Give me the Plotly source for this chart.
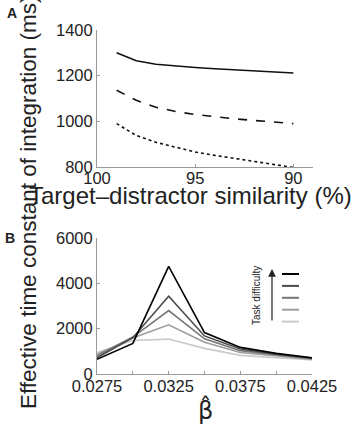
import plotly.graph_objects as go

# Panel A data
similarity = [99, 98, 97, 96, 95, 94, 93, 92, 91, 90]
tc_solid = [1300, 1265, 1250, 1242, 1236, 1230, 1226, 1221, 1216, 1212]
tc_dashed = [1136, 1092, 1062, 1043, 1030, 1019, 1011, 1004, 997, 990]
tc_dotted = [990, 938, 908, 886, 866, 851, 838, 825, 811, 798]

# Panel B data
beta_hat = [0.0275, 0.03, 0.0325, 0.035, 0.0375, 0.04, 0.0425]
tc_b1 = [650, 1350, 4750, 1830, 1175, 910, 715]
tc_b2 = [720, 1600, 3430, 1680, 1100, 870, 700]
tc_b3 = [800, 1630, 2800, 1550, 1030, 840, 680]
tc_b4 = [870, 1590, 2170, 1400, 950, 800, 655]
tc_b5 = [950, 1480, 1540, 1130, 820, 730, 620]
b_series = [tc_b1, tc_b2, tc_b3, tc_b4, tc_b5]
b_colors = ["#000000", "#4a4a4a", "#767676", "#9c9c9c", "#cacaca"]

a_xticks = [100, 95, 90]
a_yticks = [800, 1000, 1200, 1400]
b_xticks = [0.0275, 0.03, 0.0325, 0.035, 0.0375, 0.04, 0.0425]
b_xticktext = ["0.0275", "", "0.0325", "", "0.0375", "", "0.0425"]
b_yticks = [0, 2000, 4000, 6000]

W, H = 355, 428
def px(x):
    return x / W
def py(y):
    return 1 - y / H

fig = go.Figure()
for ys, dash in [(tc_solid, "solid"), (tc_dashed, "dash"), (tc_dotted, "dot")]:
    fig.add_trace(go.Scatter(x=similarity, y=ys, mode="lines", xaxis="x", yaxis="y",
                             line=dict(color="#111111", width=1.6, dash=dash), showlegend=False))
for ys, c in zip(b_series[::-1], b_colors[::-1]):
    fig.add_trace(go.Scatter(x=beta_hat, y=ys, mode="lines", xaxis="x2", yaxis="y2",
                             line=dict(color=c, width=1.6), showlegend=False))

font = dict(family="Liberation Sans, Arial, sans-serif", color="#222222")
axcommon = dict(showline=True, linecolor="#9a9a9a", linewidth=1, ticks="inside", ticklen=3,
                tickcolor="#9a9a9a", showgrid=False, zeroline=False, automargin=False,
                tickfont=dict(size=16.5, **font))

fig.update_layout(
    width=W, height=H, margin=dict(l=0, r=0, t=0, b=0, autoexpand=False),
    paper_bgcolor="white", plot_bgcolor="white",
    xaxis=dict(domain=[px(97), px(313)], range=[100, 89], tickvals=a_xticks,
               anchor="y", ticklabelstandoff=-4, **axcommon),
    yaxis=dict(domain=[py(167), py(30)], range=[800, 1400], tickvals=a_yticks,
               anchor="x", **axcommon),
    xaxis2=dict(domain=[px(97), px(312)], range=[0.0275, 0.0425], tickvals=b_xticks,
                ticktext=b_xticktext, anchor="y2", ticklabelstandoff=-3, **axcommon),
    yaxis2=dict(domain=[py(374), py(238)], range=[0, 6000], tickvals=b_yticks,
                anchor="x2", **axcommon),
)

def note(text, x, y, size, angle=0, family=None, bold=False):
    f = dict(size=size, family=family or font["family"], color="#222222")
    return dict(text=(f"<b>{text}</b>" if bold else text), x=px(x), y=py(y),
                xref="paper", yref="paper", xanchor="center", yanchor="middle",
                showarrow=False, textangle=angle, font=f)

ann = [
    note("A", 12, 13, 14, bold=True),
    note("B", 10, 238, 14, bold=True),
    note("Target\u2013distractor similarity (%)", 191, 196, 24),
    note("Effective time constant of integration (ms)", 28, 202, 22.5, angle=-90),
    note("\u03b2\u0302", 205, 410, 24, family="DejaVu Sans"),
    note("Task difficulty", 256, 296, 10, angle=-90),
]
# arrow
ann.append(dict(x=px(272), y=py(269), ax=0, ay=53, xref="paper", yref="paper",
                axref="pixel", ayref="pixel", showarrow=True, arrowhead=2, arrowsize=1.3,
                arrowwidth=1.2, arrowcolor="#222222", text=""))
fig.update_layout(annotations=ann)

shapes = []
for i, c in enumerate(b_colors):
    yy = 274 + i * 11.9
    shapes.append(dict(type="line", xref="paper", yref="paper", x0=px(282), x1=px(299),
                       y0=py(yy), y1=py(yy), line=dict(color=c, width=2)))
fig.update_layout(shapes=shapes)

fig.write_html("out.html", config={"displayModeBar": False},
               post_script="document.body.style.margin='0px';")
